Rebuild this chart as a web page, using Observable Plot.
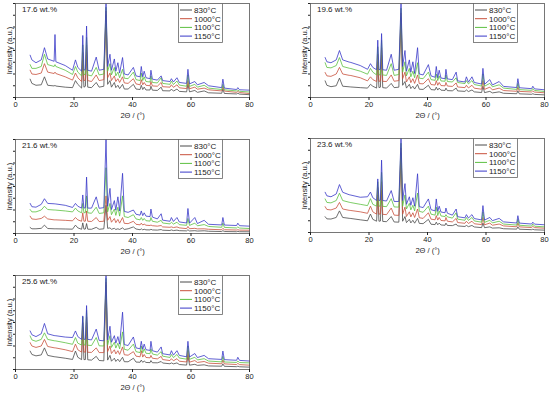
<!DOCTYPE html>
<html><head><meta charset="utf-8">
<script src="https://cdn.jsdelivr.net/npm/d3@7"></script>
<script src="https://cdn.jsdelivr.net/npm/@observablehq/plot@0.6"></script>
<style>
body{margin:0;background:#fff;}
#root{position:relative;width:550px;height:395px;overflow:hidden;font-family:"Liberation Sans",Arial,sans-serif;color:#222;}
.panel{position:absolute;}
.tag{position:absolute;font-size:8px;white-space:nowrap;}
.legend{position:absolute;}
</style></head><body><div id="root"></div>
<script>
// 2-theta sample positions (degrees)
const angles = [5,5.6,7,8.8,9.9,11,13.2,13.5,13.8,17,19.5,20.5,21.3,22.6,23,23.4,23.9,24.3,24.7,26,27.6,28.6,30.2,30.95,31.5,32.3,32.8,33.8,34.3,35,35.6,36.6,37.2,38.5,40.3,41.2,42.6,43,43.5,44,44.6,46,46.3,46.8,48.5,49.8,50.3,52.8,53.3,54,55.2,56,58.5,58.95,59.5,61.3,62.2,64.5,66,70.5,70.9,71.4,75.6,76,76.6,80];
const temps = ["830°C","1000°C","1100°C","1150°C"];
const colors = ["#4a4a4a","#c8503c","#5cc040","#3838c8"];
const panelLabels = ["17.6 wt.%","19.6 wt.%","21.6 wt.%","23.6 wt.%","25.6 wt.%"];
const xTicks = [0,20,40,60,80];
const yTicks = [0,12.5,25,37.5,50,62.5,75,87.5,100];

// Panel 1: 17.6 wt.%
const p1_830 = [19.5,15,13,13.5,22,13,12.3,13,12.2,11,10.5,18,14,10,40,11,12,48,11,10.5,16,11,12,88,14,18,11,16,10.5,13,9.5,14,9,9,14,9,8.5,13,8.5,11,8,8,12,7.8,7.5,11,7.2,7,9,6.8,9,6.5,6,14,6,7.5,5.5,7,5,4.5,9,4.3,3.8,4.5,3.6,3];
const p1_1000 = [29,25,24.5,26,36,27,25.5,27,25.5,22,18.5,26,21,17,48,18,18.5,56,18,17,24,18,19,92,21,26,18,23,17,20,16,22,15.5,15,20,14.5,13.5,19,13.5,16,13,12.5,17,12.3,12,16,11.5,11,13.5,10.8,13.5,10.3,9.5,18,9.3,11,8.8,10,8.2,7,11.5,6.8,5.5,6.5,5.3,4.2];
const p1_1100 = [35,31,31,33,46,35,33,35,33,29,24.5,33,27,23,56,24,25,64,24,23,32,24,25,96,28,36,24,32,23,27,21,30,20.5,20,27,19,18,26,18,22,17,16.5,23,16,15.5,21,15,14,17.5,13.8,17.5,13.2,12,24,11.8,14,11,13,10,8.5,14,8.2,7,8,6.6,5.8];
const p1_1150 = [45,40,37,40,53,41,38.5,67,38,34,29,40,32,28,66,29,30,76,29,28,43,29,30,100,33,46,29,41,28,37,26,42.5,25,24,32,23,22,33,22,28,21,20,29,19.5,18.5,23,18,17,20,16.5,21,16,15,30,14.5,17,13.5,16,12.5,10.5,19.5,10,8.5,10.5,8.2,7.8];

// Panel 2: 19.6 wt.%
const p2_830 = [17.7,13,11.5,12.5,20.6,12,11.4,11.3,11.2,10.5,10,14,12,10,38,10.5,11,45,10.5,10,15,10.5,11,85,13,17,10,14,9.5,12,9,14,8.8,8.6,13,8.4,8,11,7.9,10,7.8,7.5,10,7.3,7.1,10,7,6.5,8,6.3,8,6,5.3,12,5.2,6.5,4.9,6,4.5,4,7,3.9,3.4,4,3.3,2.8];
const p2_1000 = [26.6,23,22.5,25,32,25,23.6,23.5,23.4,21,17.7,22,19,17,46,17.2,17.5,53,17.2,17,24,17.3,18,90,20,27,16.5,22,15.8,20,15,24,14.8,14.5,20,13.8,13.2,18,13,16,12.7,12.4,16,12.2,11.8,15.5,11.2,10.5,13,10.2,13,9.9,8.8,18,8.6,11,8.1,10,7.4,6.6,11,6.5,5.9,7,5.8,5];
const p2_1100 = [37,32,31.5,34,42.5,33,31.2,31,30.8,28,24.8,31,27,24,54,24,24.2,61,24,23.5,36,23.5,24.5,95,27,38,23,31,22,28,21,37,20.5,20,27,19,18.3,25,18,23,17.6,17.3,24,17,16.5,21,16,14.8,18,14.5,18,13.8,12.2,25,12,15,11.4,13.5,10,8.6,15,8.4,7.6,9.5,7.5,6.4];
const p2_1150 = [42.5,38,37,40,50,40,37.7,37.5,37.3,34,30,36,32,29.5,61,29.5,30,68,29.5,29,46,29,30,100,33,50,28,40,27,38,25.5,53,25,24,35,23,21.5,33,21,29,20.7,20,30,19.8,19,27,17.7,16.5,22,16.3,22,16,14.3,31,14,19,13.3,17,11.8,10.6,20,10.4,9.4,12,9.2,8.2];

// Panel 3: 21.6 wt.%
const p3_830 = [6.4,5,5,5.5,8.9,5.3,5,5,5,4.8,4.6,8.9,6,4.5,11.3,4.6,4.8,10.6,4.6,4.5,6.5,4.5,5,30,5.5,6,4.5,5.5,4.3,5,4.3,6,4.3,5,7,4.8,4,5,3.9,4.5,3.9,3.8,4.5,3.8,3.6,4.2,3.5,3.2,3.8,3.1,3.6,3,2.8,4,2.7,3,2.6,2.9,2.4,2.1,3,2.1,1.9,2.2,1.9,1.8];
const p3_1000 = [18.4,15.5,15,16,18.4,15.5,14.5,14.5,14.5,14,13.5,17,14.5,13,22,13,13.2,24,13,12.8,17,12.7,13,40,14,18,12,16,11.5,15,11,17,10.8,10.5,13,9.8,9.2,11,9,10,8.8,8.5,9,8.3,7.8,8.5,7,6.6,7,6.3,7,6,5.2,7.5,5.1,5.5,4.9,5,4.5,4,5.5,4,3.7,4,3.6,3.5];
const p3_1100 = [25.5,23,23,25,29,25.5,25,25,24.9,24,23,27,24,22,32,22,22.3,40,22,21.5,28,21.3,22,70,23,32,20,26,19.3,28,18.5,40,18,17,20,15.5,14.5,17,14,16,13.6,13.2,17,13,12,14,11.2,10.2,12,10,12,9.4,8.7,16,8.6,11,8.2,9.5,7.5,6.6,11,6.5,5.9,7,5.8,5.3];
const p3_1150 = [32,28.5,28,31,37,32,31.6,31.5,31.4,30,27.7,32,29,27,41,27,27.5,60,27,27,39,26.8,27.5,100,29,48,25.5,35,24.8,39,24,64,23.5,22.5,25,20.5,19.5,24,19,22,18.5,18,26,17.5,15.5,21,14.2,13,17,12.8,17,12.3,11.2,26.6,11,17,10.6,14,9.8,9.1,17,9,8.5,11,8.3,7.8];

// Panel 4: 23.6 wt.%
const p4_830 = [16.8,14.5,14.3,16,23,16,15.1,15,14.9,13.5,12.5,19.6,14,12,40,12,12.2,45,11.8,11.5,17,11.2,11,85,12,17,10.5,14,10.2,13,9.9,15,9.7,9.4,14,8.8,8.4,11,8.2,10,8,7.7,10,7.5,7.3,9,7,6.4,7.5,6.2,7.5,5.9,5.2,10,5.1,6,4.7,5,4,3.6,6,3.5,3,3.5,2.9,2.5];
const p4_1000 = [27.5,24.5,24,26,32,25,23.6,23.5,23.4,22,20.4,28,22,19.5,48,19.5,19.7,54,19.3,19,26,18.5,18.2,90,19.5,27,17,22,16.6,21,16,25,15.7,15,21,14.2,13.5,18,13.2,16,12.8,12.4,16,12,11.3,15,10.6,9.8,12,9.6,12,9.3,8.4,16,8.2,10,7.7,9,7,6.1,10,6,5.3,6.5,5.2,4.6];
const p4_1100 = [35.7,32,31.5,34,41.8,34,32.2,32,31.8,30,28.6,36,30,28,54,28,28.2,64,27.8,27.5,36,27.2,27,95,28,40,25,31,24,29,23,42,22.5,21.5,28,19.5,18.5,27,18,23,17.6,17,19,16.7,15.3,21,14.2,13,16,12.8,16,12.3,11,22,10.8,13,10.2,12,9,7.9,14,7.7,6.8,9,6.7,6];
const p4_1150 = [42.8,39,38,41,51,42.8,40.2,40,39.8,37.5,38,43,37,34,57,34,34.5,77,34,33.5,44.6,33,33,100,34,52,30,38,29,37,28,62.5,27.5,26.5,35.7,24.3,23,35.7,22.5,28,21.8,21,26,20.5,18.5,25,16.8,15.6,19,15.4,19,14.8,13.4,28.6,13.2,16,12.6,15,11.3,10.1,17.9,10,9,11,8.9,8.2];

// Panel 5: 25.6 wt.%
const p5_830 = [19.6,16,14.5,15.5,23,15,13.6,13.5,13.4,12,10.7,19.6,13,10.5,45,10.5,10.6,50,10.3,10,14,9.6,9.2,90,10,15,8.8,12,8.6,11,8.4,13,8.3,8.2,12,7.9,7.7,10,7.6,9,7.5,7.3,9.5,7.2,7.1,8.5,6.9,6.1,7,6,7,5.3,4.7,15,4.6,5.5,4.4,5,3.8,3.5,6,3.4,3,3.5,2.9,2.5];
const p5_1000 = [28.6,25,23.5,25,32,24.5,23.1,23,22.9,21,19,27,21,18.5,50,18.5,18.6,56,18.3,18.2,23,18,18,93,19,25,17,21,16.6,20,16,24,15.7,15.2,19,14.2,13.5,20,13.2,16,12.8,12.4,15,12,11.3,14,10.6,9.5,11.5,9.3,11.5,8.8,8,20,7.8,9.5,7.5,8.5,6.7,6.1,10,6,5.3,6.5,5.2,4.6];
const p5_1100 = [35.7,31.5,30,32,39,32,30.6,30.5,30.4,28.5,26.8,34,28,26,56,26,26.2,63,25.8,25.5,34,25.2,25,97,26,36,23.5,29,22.8,28,22,40,21.5,20.5,27,19,18,25,17.7,22,17.3,16.8,22,16.5,15.3,19,14.2,12.8,16,12.6,16,12.2,11,25,10.8,13,10.2,11.5,9,8.1,14,8,7.5,9,7.4,7];
const p5_1150 = [41,37,35,38,49,38,36.1,36,35.9,34.5,34,41,35,32,57,32,32.3,68,32,31.5,43,31,30.5,100,31.5,46,29,36,28,35,27,61,26.5,25.5,34.6,23,22,30,21.5,27,21,20.3,30,20,18.5,24,16.8,15.5,20,15.3,20,15,13.5,30,13.3,17,12.7,15,11.5,10.7,19.6,10.5,9.8,13,9.7,9];

const panelSeries = [
  [p1_830,p1_1000,p1_1100,p1_1150],
  [p2_830,p2_1000,p2_1100,p2_1150],
  [p3_830,p3_1000,p3_1100,p3_1150],
  [p4_830,p4_1000,p4_1100,p4_1150],
  [p5_830,p5_1000,p5_1100,p5_1150]
];

// layout (pixels)
const M = {left:14, right:6, top:3, bottom:25};
const frameW = 234, frameH = 94;
const svgPos = [{left:1,top:0},{left:296,top:0},{left:1,top:136},{left:296,top:135},{left:1,top:272}];

const root = document.getElementById("root");
const font = '"Liberation Sans",Arial,sans-serif';

panelSeries.forEach((series, i) => {
  const rows = [];
  series.forEach((vals, s) => vals.forEach((v, k) => rows.push({angle: angles[k], value: v, temp: temps[s]})));
  const chart = Plot.plot({
    width: M.left + frameW + M.right,
    height: M.top + frameH + M.bottom,
    marginLeft: M.left, marginRight: M.right, marginTop: M.top, marginBottom: M.bottom,
    style: {fontSize: "7px", fontFamily: font, background: "transparent", color: "#222", overflow: "visible"},
    x: {domain: [0, 80]},
    y: {domain: [0, 100]},
    color: {domain: temps, range: colors},
    marks: [
      Plot.line(rows, {x: "angle", y: "value", z: "temp", stroke: "temp", strokeWidth: 0.8}),
      Plot.frame({stroke: "#555", strokeWidth: 0.8}),
      Plot.axisX({ticks: xTicks, tickSize: 3, tickPadding: 1, label: "2Θ / (°)", labelAnchor: "center", labelArrow: "none", labelOffset: 20, fontSize: 7.5}),
      Plot.axisY({ticks: yTicks, tickSize: 2, tickFormat: () => "", label: "Intensity (a.u.)", labelAnchor: "center", labelArrow: "none", labelOffset: 9, fontSize: 7.5})
    ]
  });
  const wrap = document.createElement("div");
  wrap.className = "panel";
  wrap.style.left = svgPos[i].left + "px";
  wrap.style.top = svgPos[i].top + "px";
  wrap.appendChild(chart);
  root.appendChild(wrap);

  const fx = svgPos[i].left + M.left, fy = svgPos[i].top + M.top;
  const tag = document.createElement("div");
  tag.className = "tag";
  tag.textContent = panelLabels[i];
  tag.style.left = (fx + 7) + "px";
  tag.style.top = (fy + 2) + "px";
  root.appendChild(tag);

  const lg = d3.create("svg").attr("width", 46).attr("height", 41).attr("class", "legend")
    .style("left", (fx + 163) + "px").style("top", fy + "px");
  lg.append("rect").attr("x", 0.5).attr("y", 0.5).attr("width", 44).attr("height", 39)
    .attr("fill", "white").attr("stroke", "#666").attr("stroke-width", 0.8);
  temps.forEach((t, s) => {
    const yy = 7 + s * 8.7;
    lg.append("line").attr("x1", 2).attr("x2", 14).attr("y1", yy).attr("y2", yy)
      .attr("stroke", colors[s]).attr("stroke-width", 1);
    lg.append("text").attr("x", 16).attr("y", yy).attr("dy", "0.35em")
      .attr("font-size", 8).attr("font-family", font).attr("fill", "#222").text(t);
  });
  root.appendChild(lg.node());
});
</script>
</body></html>
